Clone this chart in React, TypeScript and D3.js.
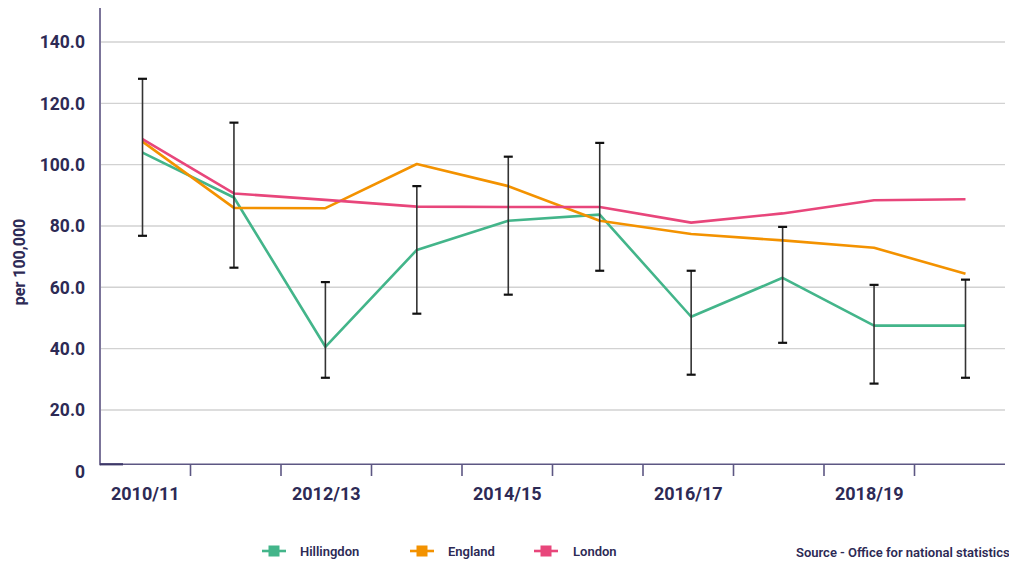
import React from "react";
import * as d3 from "d3";

const categories = ["2010/11", "2011/12", "2012/13", "2013/14", "2014/15", "2015/16", "2016/17", "2017/18", "2018/19", "2019/20"];
const tickLabelCats = ["2010/11", "2012/13", "2014/15", "2016/17", "2018/19"];
const hillingdon = [103.9, 89.3, 40.6, 72.2, 81.7, 83.7, 50.4, 63.1, 47.5, 47.5];
const england = [107.5, 85.9, 85.8, 100.2, 93.0, 81.7, 77.4, 75.3, 72.9, 64.4];
const london = [108.3, 90.6, 88.5, 86.3, 86.2, 86.2, 81.1, 84.1, 88.4, 88.7];
const ciLower = [76.8, 66.4, 30.5, 51.4, 57.6, 65.4, 31.5, 41.9, 28.6, 30.5];
const ciUpper = [128.0, 113.7, 61.7, 93.0, 102.6, 107.1, 65.4, 79.7, 60.8, 62.5];
const yTicks = [20, 40, 60, 80, 100, 120, 140];

const series = [
  { name: "Hillingdon", values: hillingdon, color: "#43b58a" },
  { name: "England", values: england, color: "#f39200" },
  { name: "London", values: london, color: "#e8467b" },
];

const W = 1009;
const H = 562;
const left = 100;
const right = 1005;
const axisY = 464.3;
const textColor = "#2d2a55";
const font = "Roboto, 'DejaVu Sans', sans-serif";

export default function App() {
  const y = d3.scaleLinear().domain([0, 140]).range([471.3, 42]);
  const band = d3.scaleBand().domain(categories).range([left, right]);
  const xp = d3.scalePoint().domain(categories).range([142.5, 965.5]);
  const line = d3
    .line<number>()
    .x((_, i) => xp(categories[i]) as number)
    .y((d) => y(d));

  const boundaries = categories.slice(1).map((c) => band(c) as number);
  const legendItems = [
    { s: series[0], x: 262, tx: 300 },
    { s: series[1], x: 410, tx: 448 },
    { s: series[2], x: 534, tx: 573 },
  ];

  return (
    <svg width={W} height={H} style={{ position: "absolute", left: 0, top: 0, background: "#fff" }}>
      {/* gridlines */}
      {yTicks.map((t) => (
        <line key={t} x1={left} x2={right} y1={y(t)} y2={y(t)} stroke="#d2d2d2" strokeWidth={1.4} />
      ))}
      {/* y tick labels */}
      {yTicks.map((t) => (
        <text key={"l" + t} x={85} y={y(t)} dy="0.36em" textAnchor="end" fontFamily={font} fontWeight={700} fontSize={17.5} fill={textColor}>
          {t.toFixed(1)}
        </text>
      ))}
      <text x={85} y={y(0)} dy="0.36em" textAnchor="end" fontFamily={font} fontWeight={700} fontSize={17.5} fill={textColor}>
        0
      </text>
      {/* y axis title */}
      <text transform={`translate(25,${262}) rotate(-90)`} textAnchor="middle" fontFamily={font} fontWeight={700} fontSize={16} fill={textColor}>
        per 100,000
      </text>
      {/* axes */}
      <line x1={left} x2={left} y1={8} y2={axisY + 1} stroke="#7b7499" strokeWidth={2} />
      <line x1={left} x2={right} y1={axisY} y2={axisY} stroke="#5d5783" strokeWidth={1.6} />
      <line x1={left} x2={123} y1={axisY} y2={axisY} stroke="#3d3868" strokeWidth={2.2} />
      {boundaries.map((b, i) => (
        <line key={"t" + i} x1={b} x2={b} y1={axisY} y2={476} stroke="#5d5783" strokeWidth={1.6} />
      ))}
      {tickLabelCats.map((c) => (
        <text key={c} x={(band(c) as number) + band.bandwidth() / 2} y={500} textAnchor="middle" fontFamily={font} fontWeight={700} fontSize={18} fill={textColor}>
          {c}
        </text>
      ))}
      {/* lines */}
      {series.map((s) => (
        <path key={s.name} d={line(s.values) || ""} fill="none" stroke={s.color} strokeWidth={2.6} strokeLinejoin="round" />
      ))}
      {/* error bars */}
      {categories.map((c, i) => {
        const x = xp(c) as number;
        return (
          <g key={"e" + c}>
            <line x1={x} x2={x} y1={y(ciUpper[i])} y2={y(ciLower[i])} stroke="#333" strokeWidth={1.6} />
            <line x1={x - 4.5} x2={x + 4.5} y1={y(ciUpper[i])} y2={y(ciUpper[i])} stroke="#111" strokeWidth={2.2} />
            <line x1={x - 4.5} x2={x + 4.5} y1={y(ciLower[i])} y2={y(ciLower[i])} stroke="#111" strokeWidth={2.2} />
          </g>
        );
      })}
      {/* legend */}
      {legendItems.map(({ s, x, tx }) => (
        <g key={"lg" + s.name}>
          <line x1={x} x2={x + 24} y1={551} y2={551} stroke={s.color} strokeWidth={2.6} />
          <rect x={x + 6.5} y={545.5} width={11} height={11} fill={s.color} />
          <text x={tx} y={551} dy="0.36em" fontFamily={font} fontWeight={600} fontSize={13} fill={textColor}>
            {s.name}
          </text>
        </g>
      ))}
      <text x={796} y={552} dy="0.36em" fontFamily={font} fontWeight={600} fontSize={13} fill={textColor}>
        Source - Office for national statistics
      </text>
    </svg>
  );
}
